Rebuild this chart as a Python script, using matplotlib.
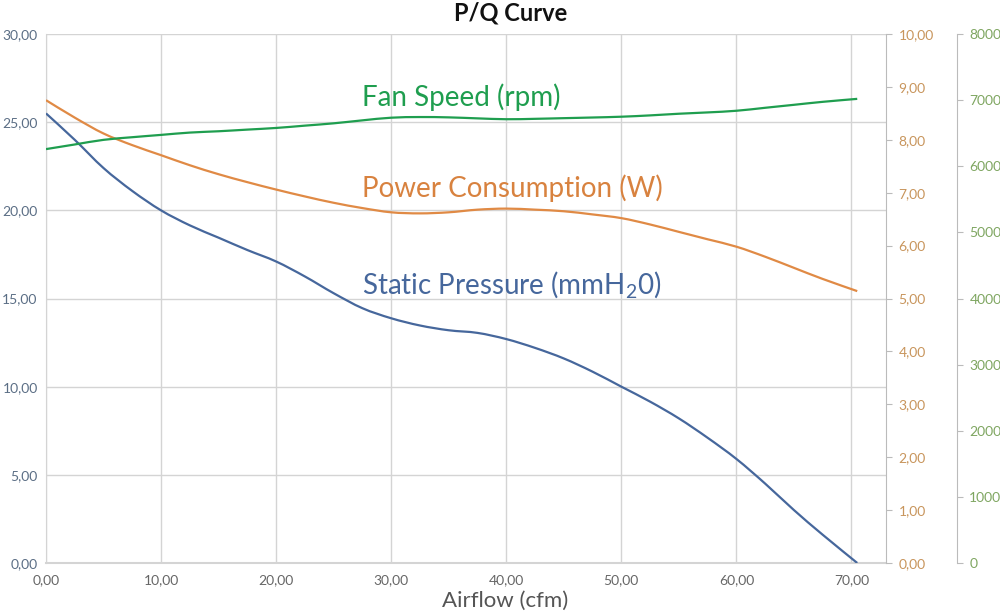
import matplotlib
matplotlib.use('Agg')
import matplotlib.pyplot as plt
from matplotlib.path import Path
from matplotlib.patches import PathPatch

plt.rcParams['font.family'] = ['Lato', 'DejaVu Sans']
plt.rcParams['mathtext.fontset'] = 'custom'
plt.rcParams['mathtext.rm'] = 'Lato'
plt.rcParams['mathtext.it'] = 'Lato:italic'

# values
airflow = [0, 2.5, 5, 7.5, 10, 12.5, 15, 17.5, 20, 22.5, 25, 27.5, 30, 32.5, 35, 37.5, 40,
           42.5, 45, 47.5, 50, 52.5, 55, 57.5, 60, 62.5, 65, 67.5, 70.5]
pressure = [25.5, 24.0, 22.4, 21.1, 20.0, 19.15, 18.45, 17.75, 17.1, 16.25, 15.3, 14.45, 13.88,
            13.47, 13.2, 13.05, 12.7, 12.2, 11.6, 10.85, 10.0, 9.15, 8.2, 7.1, 5.9, 4.5, 3.0, 1.6, 0.0]
power = [8.75, 8.42, 8.12, 7.9, 7.71, 7.52, 7.35, 7.20, 7.06, 6.93, 6.81, 6.71, 6.63, 6.61,
         6.63, 6.68, 6.70, 6.68, 6.65, 6.59, 6.52, 6.40, 6.26, 6.12, 5.98, 5.79, 5.58, 5.37, 5.14]
fan_speed = [6260, 6330, 6400, 6440, 6475, 6510, 6530, 6555, 6580, 6615, 6650, 6695, 6735, 6745,
             6740, 6725, 6712, 6718, 6728, 6738, 6750, 6770, 6795, 6815, 6840, 6885, 6930, 6975, 7020]

x_ticks = [0, 10, 20, 30, 40, 50, 60, 70]

blue = '#46679c'
orange = '#e08a45'
green = '#1f9e4f'


def comma(v, digits=2):
    return f'{v:.{digits}f}'.replace('.', ',')


def smooth_line(a, xs, ys, color):
    # smoothed line like a spreadsheet "smooth line" (Catmull-Rom drawn as Bezier)
    verts = [(xs[0], ys[0])]
    codes = [Path.MOVETO]
    n = len(xs)
    for i in range(n - 1):
        x0, y0 = (xs[i - 1], ys[i - 1]) if i > 0 else (xs[i], ys[i])
        x1, y1 = xs[i], ys[i]
        x2, y2 = xs[i + 1], ys[i + 1]
        x3, y3 = (xs[i + 2], ys[i + 2]) if i + 2 < n else (x2, y2)
        verts += [(x1 + (x2 - x0) / 6, y1 + (y2 - y0) / 6),
                  (x2 - (x3 - x1) / 6, y2 - (y3 - y1) / 6),
                  (x2, y2)]
        codes += [Path.CURVE4] * 3
    a.add_patch(PathPatch(Path(verts, codes), fill=False, edgecolor=color, lw=1.6, zorder=3))


fig = plt.figure(figsize=(10, 6.15), dpi=100)
ax = fig.add_axes([0.046, 0.0846, 0.84, 0.86])
ax2 = ax.twinx()
ax3 = ax.twinx()

smooth_line(ax, airflow, pressure, blue)
smooth_line(ax2, airflow, power, orange)
smooth_line(ax3, airflow, fan_speed, green)

ax.set_xlim(0, 73)
ax.set_ylim(0, 30)
ax2.set_ylim(0, 10)
ax3.set_ylim(0, 8000)

ax.set_xticks(x_ticks)
ax.set_xticklabels([comma(v) for v in x_ticks])
ax.set_yticks(range(0, 31, 5))
ax.set_yticklabels([comma(v) for v in range(0, 31, 5)])
ax2.set_yticks(range(0, 11))
ax2.set_yticklabels([comma(v) for v in range(0, 11)])
ax3.set_yticks(range(0, 8001, 1000))

grid_c = '#d4d4d4'
ax.grid(True, color=grid_c, lw=1)
ax.set_axisbelow(True)
for a in (ax, ax2, ax3):
    for s in a.spines.values():
        s.set_visible(False)
ax.spines['left'].set_visible(True)
ax.spines['left'].set_color(grid_c)
ax.spines['bottom'].set_visible(True)
ax.spines['bottom'].set_color(grid_c)
ax.spines['bottom'].set_linewidth(1.5)
ax2.spines['right'].set_visible(True)
ax2.spines['right'].set_color('#bbbbbb')
ax3.spines['right'].set_visible(True)
ax3.spines['right'].set_color('#bbbbbb')
ax3.spines['right'].set_position(('outward', 51))

ax.tick_params(axis='x', length=0, labelsize=10, labelcolor='#666666', pad=8)
ax.tick_params(axis='y', length=0, labelsize=10, labelcolor='#5b6e85', pad=6)
ax2.tick_params(axis='y', length=4, color='#bbbbbb', labelsize=10, labelcolor='#c8955c', pad=5)
ax3.tick_params(axis='y', length=4, color='#bbbbbb', labelsize=10, labelcolor='#7fa661', pad=5)

ax.set_xlabel('Airflow (cfm)', fontsize=16, color='#555555', labelpad=1)
ax.xaxis.set_label_coords(0.546, -0.052)
fig.suptitle('P/Q Curve', fontsize=17, fontweight='bold', x=0.511, y=0.998, color='#111111')

label_x = 0.376
ax.text(label_x, 0.881, 'Fan Speed (rpm)', transform=ax.transAxes, ha='left', va='center',
        fontsize=20, color=green)
ax.text(label_x, 0.709, 'Power Consumption (W)', transform=ax.transAxes, ha='left', va='center',
        fontsize=20, color='#d8823f')
ax.text(label_x, 0.527, r'Static Pressure (mmH$_\mathregular{2}$0)', transform=ax.transAxes,
        ha='left', va='center', fontsize=20, color=blue)

fig.savefig('out.png', dpi=100)
